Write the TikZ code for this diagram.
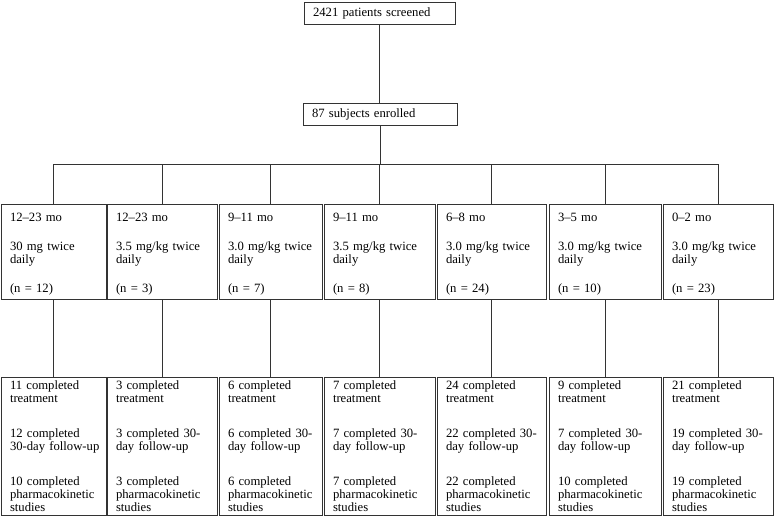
\documentclass[tikz,border=0pt]{standalone}
\usepackage{fontspec}
\setmainfont{Liberation Serif}
\begin{document}
\begin{tikzpicture}[x=0.75pt,y=-0.75pt,
  line/.style={draw=black!80,line width=0.6pt},
  box/.style={draw=black!80,line width=0.6pt,rectangle,align=left,inner ysep=0pt,inner xsep=6.75pt,
    font=\fontsize{9.5}{9.75}\selectfont},
  mid/.style={box,minimum height=71.25pt},
  bot/.style={box,minimum height=103.5pt}]
\useasboundingbox (0,0) rectangle (775,518);
% top boxes
\node[box,minimum height=16.5pt,text width=99.75pt] (scr) at (379.5,13) {2421 patients screened};
\node[box,minimum height=16.5pt,text width=102pt] (enr) at (380,114) {87 subjects enrolled};
% middle boxes
\def\gm{\\[12pt]}
\def\gb{\\[16.5pt]}
\def\vt{\rule{0pt}{11pt}}
\node[mid,text width=65.25pt] (m1) at (53.5,251.5) {\vt 12–23 mo\gm 30 mg twice\\daily\gm (n = 12)};
\node[mid,text width=69pt] (m2) at (162,251.5) {\vt 12–23 mo\gm 3.5 mg/kg twice\\daily\gm (n = 3)};
\node[mid,text width=63.75pt] (m3) at (270.5,251.5) {\vt 9–11 mo\gm 3.0 mg/kg twice\\daily\gm (n = 7)};
\node[mid,text width=69.75pt] (m4) at (379.5,251.5) {\vt 9–11 mo\gm 3.5 mg/kg twice\\daily\gm (n = 8)};
\node[mid,text width=68.25pt] (m5) at (491.5,251.5) {\vt 6–8 mo\gm 3.0 mg/kg twice\\daily\gm (n = 24)};
\node[mid,text width=70.5pt] (m6) at (605,251.5) {\vt 3–5 mo\gm 3.0 mg/kg twice\\daily\gm (n = 10)};
\node[mid,text width=69pt] (m7) at (718,251.5) {\vt 0–2 mo\gm 3.0 mg/kg twice\\daily\gm (n = 23)};
% bottom boxes
\node[bot,text width=65.25pt] (b1) at (53.5,446) {11 completed\\treatment\gb 12 completed\\\mbox{30-day follow-up}\gb 10 completed\\pharmacokinetic\\studies};
\node[bot,text width=69pt] (b2) at (162,446) {3 completed\\treatment\gb 3 completed 30-\\day follow-up\gb 3 completed\\pharmacokinetic\\studies};
\node[bot,text width=63.75pt] (b3) at (270.5,446) {6 completed\\treatment\gb 6 completed 30-\\day follow-up\gb 6 completed\\pharmacokinetic\\studies};
\node[bot,text width=69.75pt] (b4) at (379.5,446) {7 completed\\treatment\gb 7 completed 30-\\day follow-up\gb 7 completed\\pharmacokinetic\\studies};
\node[bot,text width=68.25pt] (b5) at (491.5,446) {24 completed\\treatment\gb 22 completed 30-\\day follow-up\gb 22 completed\\pharmacokinetic\\studies};
\node[bot,text width=70.5pt] (b6) at (605,446) {9 completed\\treatment\gb 7 completed 30-\\day follow-up\gb 10 completed\\pharmacokinetic\\studies};
\node[bot,text width=69pt] (b7) at (718,446) {21 completed\\treatment\gb 19 completed 30-\\day follow-up\gb 19 completed\\pharmacokinetic\\studies};
% connectors
\coordinate (bar) at (379.5,164);
\draw[line] (scr.south) -- (scr.south |- enr.north);
\draw[line] (enr.south) -- (enr.south |- bar);
\draw[line] (m1.north |- bar) -- (m7.north |- bar);
\foreach \i in {1,...,7}{
  \draw[line] (m\i.north |- bar) -- (m\i.north);
  \draw[line] (m\i.south) -- (b\i.north);
}
\end{tikzpicture}
\end{document}
